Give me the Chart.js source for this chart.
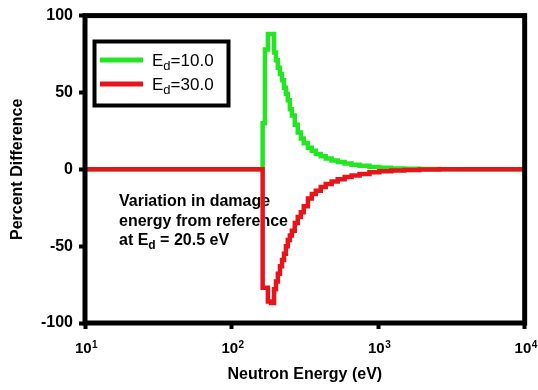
<!DOCTYPE html>
<html>
<head>
<meta charset="utf-8">
<script src="https://cdn.jsdelivr.net/npm/chart.js@4/dist/chart.umd.min.js"></script>
<style>
    body { margin: 0; background: #fff; }
    #caja { width: 538px; height: 390px; position: relative; }
</style>
</head>
<body>
<div id="caja"><canvas id="myChart"></canvas></div>
<script>
// energia (eV) where each step begins
const energia = [10, 163, 169, 177, 186, 195, 201, 207, 214, 221, 228, 235, 242, 250, 258, 270,
    283, 297, 311, 332, 353, 376, 406, 439, 482, 530, 591, 659, 747, 873, 1020, 1230, 1510, 1910, 2610, 10000]

// percent difference, Ed = 10.0 eV
const dif10 = [0, 30, 78, 88, 88, 76, 71, 66, 62, 58, 53, 49, 45, 39, 35, 29,
    24, 20, 17, 14, 12, 10, 8.5, 7, 5.8, 4.8, 3.8, 3, 2.3, 1.5, 1, 0.6, 0.3, 0.15, 0, 0]

// percent difference, Ed = 30.0 eV
const dif30 = [0, -77, -77, -86, -87, -78, -73, -68, -63, -59, -55, -50, -46, -43, -40, -35,
    -31, -28, -24, -19, -16, -14, -11.5, -9.5, -8, -6.5, -5, -4, -3, -2, -1.3, -0.8, -0.4, -0.2, 0, 0]

const ticksX = [10, 100, 1000, 10000]
const exponentesX = ['1', '2', '3', '4']
const ticksY = [-100, -50, 0, 50, 100]

const series = [
    { nombre: '10.0', color: '#22e622', valores: dif10 },
    { nombre: '30.0', color: '#e8141c', valores: dif30 }
]

const FUENTE = "'Liberation Sans', Arial, sans-serif"

// E with subscript d, then the rest of the string
const textoEd = (ctx, x, y, size, resto, bold) => {
    const peso = bold ? 'bold ' : ''
    ctx.font = peso + size + 'px ' + FUENTE
    ctx.fillText('E', x, y)
    x += ctx.measureText('E').width
    ctx.font = peso + Math.round(size * 0.75) + 'px ' + FUENTE
    ctx.fillText('d', x, y + size * 0.28)
    x += ctx.measureText('d').width
    ctx.font = peso + size + 'px ' + FUENTE
    ctx.fillText(resto, x, y)
}

const extras = {
    id: 'extras',
    beforeDatasetsDraw(chart) {
        const ctx = chart.ctx
        ctx.save()
        ctx.fillStyle = '#000'
        ctx.textBaseline = 'alphabetic'
        ctx.font = 'bold 16px ' + FUENTE
        ctx.fillText('Variation in damage', 119, 206)
        ctx.fillText('energy from reference', 119, 225.5)
        ctx.fillText('at ', 119, 245)
        textoEd(ctx, 119 + ctx.measureText('at ').width, 245, 16, ' = 20.5 eV', true)

        // x tick labels: 10 with a raised exponent
        const sx = chart.scales.x
        ticksX.forEach((v, i) => {
            const px = sx.getPixelForValue(v)
            ctx.font = 'bold 15px ' + FUENTE
            const w10 = ctx.measureText('10').width
            ctx.font = 'bold 10px ' + FUENTE
            const we = ctx.measureText(exponentesX[i]).width
            const x0 = px - (w10 + we) / 2 + 1
            ctx.font = 'bold 15px ' + FUENTE
            ctx.fillText('10', x0, 353)
            ctx.font = 'bold 10px ' + FUENTE
            ctx.fillText(exponentesX[i], x0 + w10 + 0.5, 348)
        })
        ctx.restore()
    },
    afterDatasetsDraw(chart) {
        const ctx = chart.ctx
        const a = chart.chartArea
        ctx.save()
        ctx.strokeStyle = '#000'
        ctx.lineWidth = 5
        ctx.strokeRect(a.left, a.top, a.right - a.left, a.bottom - a.top)

        // legend
        ctx.lineWidth = 4
        ctx.strokeRect(94.5, 41.5, 134, 64)
        chart.data.datasets.forEach((ds, i) => {
            const y = 60 + i * 24
            ctx.strokeStyle = ds.borderColor
            ctx.lineWidth = 5
            ctx.beginPath()
            ctx.moveTo(100, y)
            ctx.lineTo(143, y)
            ctx.stroke()
            ctx.fillStyle = '#000'
            textoEd(ctx, 152, y + 5.5, 17, '=' + series[i].nombre, false)
        })
        ctx.restore()
    }
}

const ctx = document.getElementById('myChart').getContext('2d')

new Chart(ctx, {
    type: 'line',
    data: {
        datasets: series.map((s, i) => ({
            label: 'Ed=' + s.nombre,
            data: energia.map((e, j) => ({ x: e, y: s.valores[j] })),
            borderColor: s.color,
            borderWidth: 4.5,
            stepped: 'before',
            pointRadius: 0,
            fill: false,
            order: 2 - i
        }))
    },
    options: {
        responsive: true,
        maintainAspectRatio: false,
        animation: false,
        layout: { padding: { top: 14.5, right: 12.5, left: 0, bottom: 0 } },
        plugins: {
            legend: { display: false },
            tooltip: { enabled: false }
        },
        scales: {
            x: {
                type: 'logarithmic',
                min: 10,
                max: 10000,
                afterBuildTicks: scale => { scale.ticks = ticksX.map(v => ({ value: v })) },
                afterFit: scale => { scale.height = 67 },
                ticks: {
                    autoSkip: false,
                    maxRotation: 0,
                    padding: 5,
                    color: 'rgba(0,0,0,0)',
                    font: { family: FUENTE, size: 15, weight: 'bold' },
                    callback: () => '10'
                },
                grid: { drawOnChartArea: false, tickLength: 6, tickWidth: 4, color: '#000' },
                border: { display: false },
                title: {
                    display: true,
                    text: 'Neutron Energy (eV)',
                    color: '#000',
                    font: { family: FUENTE, size: 16, weight: 'bold' },
                    padding: { top: 0, bottom: 6 }
                }
            },
            y: {
                min: -100,
                max: 100,
                afterBuildTicks: scale => { scale.ticks = ticksY.map(v => ({ value: v })) },
                afterFit: scale => { scale.width = 85 },
                ticks: {
                    padding: 6,
                    color: '#000',
                    font: { family: FUENTE, size: 16, weight: 'bold' }
                },
                grid: { drawOnChartArea: false, tickLength: 6, tickWidth: 4, color: '#000' },
                border: { display: false },
                title: {
                    display: true,
                    text: 'Percent Difference',
                    color: '#000',
                    font: { family: FUENTE, size: 16, weight: 'bold' },
                    padding: { top: 8, bottom: 0 }
                }
            }
        }
    },
    plugins: [extras]
})
</script>
</body>
</html>
